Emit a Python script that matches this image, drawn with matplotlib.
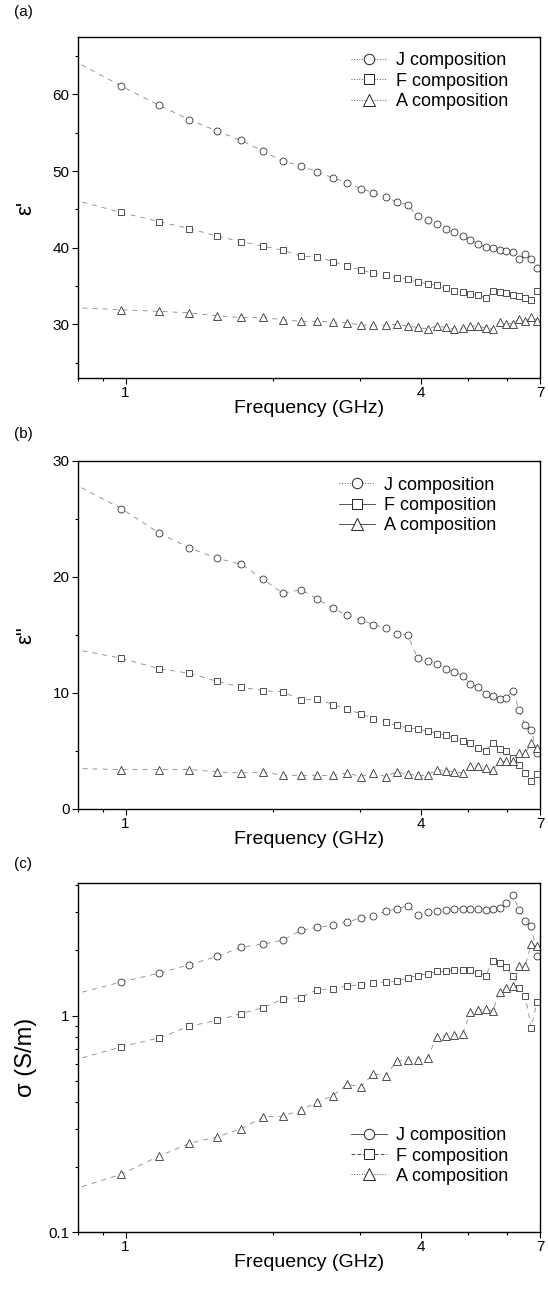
import matplotlib
matplotlib.use("Agg")
import matplotlib.pyplot as plt
from matplotlib.lines import Line2D
from matplotlib.ticker import FixedLocator, NullFormatter, LogLocator

plt.rcParams["font.family"] = ["Liberation Sans", "DejaVu Sans"]

# 频率点 (GHz)，第一个点位于坐标轴左边界之外，只用于画出起始线段
freq = [0.78, 0.98, 1.17, 1.35, 1.54, 1.72, 1.91, 2.09, 2.28, 2.46, 2.65, 2.83,
        3.02, 3.20, 3.39, 3.57, 3.76, 3.94, 4.13, 4.31, 4.50, 4.68, 4.87,
        5.05, 5.24, 5.42, 5.61, 5.79, 5.98, 6.16, 6.35, 6.53, 6.72, 6.90]

# (a) 介电常数实部 ε'
eps_re_J = [64.5, 61.1, 58.6, 56.7, 55.2, 54.0, 52.6, 51.3, 50.7, 49.9, 49.1, 48.5,
            47.7, 47.2, 46.6, 46.0, 45.6, 44.1, 43.6, 43.1, 42.5, 42.1, 41.5,
            41.0, 40.5, 40.1, 39.9, 39.7, 39.6, 39.4, 38.5, 39.2, 38.5, 37.4]
eps_re_F = [46.3, 44.6, 43.4, 42.5, 41.5, 40.8, 40.2, 39.7, 38.9, 38.8, 38.2, 37.6,
            37.1, 36.7, 36.4, 36.1, 35.9, 35.5, 35.3, 35.1, 34.7, 34.4, 34.2,
            34.0, 33.8, 33.5, 34.3, 34.2, 34.1, 33.8, 33.7, 33.5, 33.2, 34.4]
eps_re_A = [32.2, 31.9, 31.7, 31.5, 31.1, 30.9, 30.9, 30.6, 30.4, 30.4, 30.3, 30.2,
            29.9, 29.9, 29.9, 30.0, 29.8, 29.6, 29.4, 29.8, 29.6, 29.4, 29.5,
            29.8, 29.8, 29.5, 29.4, 30.3, 30.1, 30.1, 30.7, 30.4, 30.9, 30.5]

# (b) 介电常数虚部 ε''
eps_im_J = [28.1, 25.9, 23.8, 22.5, 21.6, 21.1, 19.8, 18.6, 18.9, 18.1, 17.3, 16.7,
            16.3, 15.9, 15.6, 15.1, 15.0, 13.0, 12.8, 12.5, 12.1, 11.8, 11.5,
            10.8, 10.5, 9.9, 9.7, 9.5, 9.6, 10.2, 8.5, 7.2, 6.8, 4.8]
eps_im_F = [13.8, 13.0, 12.1, 11.7, 11.0, 10.5, 10.2, 10.1, 9.4, 9.5, 9.0, 8.6,
            8.2, 7.8, 7.5, 7.2, 7.0, 6.9, 6.7, 6.5, 6.4, 6.1, 5.9,
            5.7, 5.3, 5.0, 5.7, 5.2, 5.0, 4.4, 3.8, 3.1, 2.4, 3.0]
eps_im_A = [3.5, 3.4, 3.4, 3.4, 3.2, 3.1, 3.2, 2.9, 2.9, 2.9, 2.9, 3.1,
            2.8, 3.1, 2.8, 3.2, 3.0, 2.9, 2.9, 3.4, 3.3, 3.2, 3.1,
            3.7, 3.7, 3.5, 3.4, 4.1, 4.1, 4.1, 4.8, 4.8, 5.7, 5.3]

# (c) 电导率 σ (S/m)
sigma_J = [1.25, 1.43, 1.57, 1.72, 1.88, 2.07, 2.14, 2.23, 2.48, 2.56, 2.61, 2.71,
           2.82, 2.90, 3.03, 3.11, 3.22, 2.92, 3.00, 3.05, 3.09, 3.12, 3.12,
           3.11, 3.11, 3.09, 3.12, 3.14, 3.31, 3.62, 3.06, 2.73, 2.60, 1.88]
sigma_F = [0.62, 0.717, 0.789, 0.893, 0.952, 1.02, 1.09, 1.19, 1.21, 1.32, 1.33, 1.37,
           1.39, 1.41, 1.43, 1.44, 1.49, 1.53, 1.56, 1.60, 1.60, 1.62, 1.62,
           1.62, 1.58, 1.53, 1.78, 1.75, 1.68, 1.52, 1.34, 1.23, 0.88, 1.16]
sigma_A = [0.157, 0.185, 0.224, 0.257, 0.275, 0.30, 0.34, 0.343, 0.366, 0.398, 0.427, 0.481,
           0.469, 0.538, 0.525, 0.616, 0.622, 0.622, 0.638, 0.797, 0.809, 0.817, 0.826,
           1.04, 1.06, 1.07, 1.05, 1.29, 1.34, 1.37, 1.69, 1.70, 2.15, 2.09]

series_labels = ["J composition", "F composition", "A composition"]
markers = ["o", "s", "^"]
marker_sizes = [5.0, 4.0, 5.5]

EDGE = "#333333"
LINE = "#888888"


def draw_panel(ax, ys, legend_styles, legend_anchor):
    for y, m, ms in zip(ys, markers, marker_sizes):
        ax.plot(freq, y, color=LINE, lw=0.6, ls=(0, (6, 6)),
                marker=m, ms=ms, mfc="white", mec=EDGE, mew=0.6,
                markevery=slice(1, None))
    ax.set_xscale("log")
    ax.set_xlim(0.8, 7)
    ax.xaxis.set_major_locator(FixedLocator([1, 4, 7]))
    ax.set_xticklabels(["1", "4", "7"])
    ax.xaxis.set_minor_locator(FixedLocator([0.8, 0.9, 2, 3, 5, 6]))
    ax.xaxis.set_minor_formatter(NullFormatter())
    ax.set_xlabel("Frequency (GHz)", fontsize=14, labelpad=0)
    ax.tick_params(which="major", direction="out", length=4, width=0.8,
                   labelsize=11, top=False, right=False, pad=2)
    ax.tick_params(which="minor", direction="out", length=2.5, width=0.8,
                   top=False, right=False)
    for sp in ax.spines.values():
        sp.set_linewidth(1.0)

    handles = []
    for m, ms, ls in zip(markers, marker_sizes, legend_styles):
        handles.append(Line2D([], [], color="#555555", lw=0.7, ls=ls, marker=m,
                              ms=ms + 2.5, mfc="white", mec="#222222", mew=0.7))
    ax.legend(handles, series_labels, loc="upper left", bbox_to_anchor=legend_anchor,
              frameon=False, fontsize=13, handlelength=2.0, handletextpad=0.5,
              labelspacing=0.18, borderpad=0, borderaxespad=0)


fig = plt.figure(figsize=(5.48, 12.89), dpi=100)
W, H = 548, 1289


def add_axes(top, bottom, left=78, right=540):
    return fig.add_axes([left / W, 1 - bottom / H, (right - left) / W, (bottom - top) / H])


ax_a = add_axes(37, 378)
ax_b = add_axes(461, 809)
ax_c = add_axes(883, 1232)

# (a)
draw_panel(ax_a, [eps_re_J, eps_re_F, eps_re_A], [":", ":", ":"], (0.59, 0.955))
ax_a.set_ylim(23, 67.5)
ax_a.yaxis.set_major_locator(FixedLocator([30, 40, 50, 60]))
ax_a.yaxis.set_minor_locator(FixedLocator([25, 35, 45, 55, 65]))
ax_a.set_ylabel("ε'", fontsize=16, labelpad=12)

# (b)
draw_panel(ax_b, [eps_im_J, eps_im_F, eps_im_A], [":", "-", "-"], (0.565, 0.955))
ax_b.set_ylim(0, 30)
ax_b.yaxis.set_major_locator(FixedLocator([0, 10, 20, 30]))
ax_b.yaxis.set_minor_locator(FixedLocator([5, 15, 25]))
ax_b.set_ylabel('ε"', fontsize=16, labelpad=12)

# (c)
draw_panel(ax_c, [sigma_J, sigma_F, sigma_A], ["-", (0, (4, 2)), ":"], (0.59, 0.30))
ax_c.set_yscale("log")
ax_c.set_ylim(0.1, 4.1)
ax_c.yaxis.set_major_locator(FixedLocator([0.1, 1]))
ax_c.set_yticklabels(["0.1", "1"])
ax_c.yaxis.set_minor_locator(LogLocator(base=10, subs=range(2, 10)))
ax_c.yaxis.set_minor_formatter(NullFormatter())
ax_c.set_ylabel("σ (S/m)", fontsize=17, labelpad=8)

fig.text(14 / W, 1 - 16 / H, "(a)", fontsize=11)
fig.text(14 / W, 1 - 438 / H, "(b)", fontsize=11)
fig.text(14 / W, 1 - 868 / H, "(c)", fontsize=11)

fig.savefig("out.png", dpi=100)
